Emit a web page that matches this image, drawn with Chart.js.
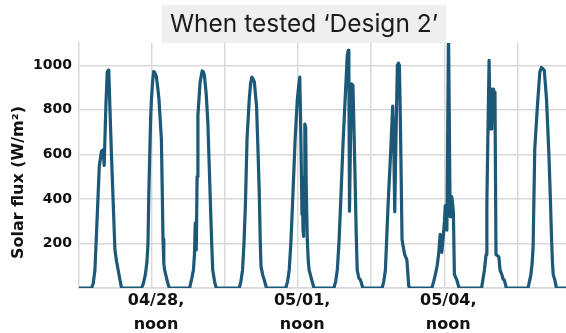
<!DOCTYPE html>
<html><head><meta charset="utf-8">
<script src="https://cdn.jsdelivr.net/npm/chart.js@4.4.1/dist/chart.umd.min.js"></script>
<style>html,body{margin:0;padding:0;background:#fff;}canvas{display:block;}</style>
</head><body>
<canvas id="c" width="566" height="333"></canvas>
<script>
// ---- data (hours are local time of day; each day starts at 00:00) ----
const chartTitle = 'When tested \u2018Design 2\u2019';
const yAxisTitle = 'Solar flux (W/m\u00B2)';
const dayNames = ['04/27','04/28','04/29','04/30','05/01','05/02','05/03','05/04','05/05','05/06'];
const flux0427 = [[6.2,0],[7.0,20],[7.85,81],[8.5,220],[9.2,370],[10.0,548],[11.1,615],[11.9,620],[12.4,550],[13.25,818],[13.9,970],[14.4,978],[14.7,970],[15.2,818],[16.0,600],[16.8,397],[17.7,172],[18.5,120],[19.3,81],[20.1,40],[20.95,0]];
const flux0428 = [[6.8,0],[7.7,20],[8.7,60],[9.5,120],[10.0,200],[10.4,420],[10.85,593],[11.3,760],[11.7,848],[12.3,930],[12.8,972],[13.3,968],[14.1,950],[14.8,900],[15.4,848],[16.0,760],[16.6,667],[17.0,450],[17.4,220],[17.8,110],[18.2,81],[19.0,50],[19.8,20],[20.5,0]];
const flux0429 = [[6.5,0],[7.5,40],[8.4,81],[8.9,150],[9.3,292],[9.5,190],[9.8,171],[10.2,500],[10.6,776],[11.7,925],[12.7,975],[13.3,970],[13.8,955],[14.7,870],[15.5,744],[16.8,370],[17.4,200],[17.9,81],[18.8,30],[19.6,0]];
const flux0430 = [[7.0,0],[7.8,30],[8.6,81],[9.3,200],[10.0,370],[10.8,667],[11.9,848],[12.6,920],[13.2,947],[13.7,940],[14.4,925],[15.5,817],[16.2,620],[16.8,440],[17.3,220],[17.7,96],[18.5,60],[19.3,36],[20.4,0]];
const flux0501 = [[5.9,0],[6.8,30],[7.6,81],[8.4,200],[9.2,370],[10.5,667],[11.6,848],[12.3,910],[12.8,947],[13.2,750],[13.6,517],[13.9,330],[14.1,420],[14.4,260],[14.7,232],[15.0,500],[15.3,736],[15.7,722],[16.0,450],[16.5,217],[17.0,120],[17.4,81],[18.7,36],[19.8,0]];
const flux0502 = [[5.6,0],[6.5,30],[7.3,81],[8.1,200],[8.9,370],[10.2,667],[11.4,893],[12.2,1045],[12.7,1067],[13.0,970],[13.3,345],[13.8,667],[14.3,917],[15.0,910],[15.5,720],[16.0,517],[16.6,250],[17.1,81],[17.9,45],[18.7,36],[19.9,0]];
const flux0503 = [[5.4,0],[6.2,30],[7.0,81],[8.3,370],[9.5,593],[10.6,817],[11.1,667],[11.6,343],[12.2,667],[12.9,1000],[13.4,1010],[13.9,1000],[14.4,744],[15.2,217],[15.9,180],[16.5,150],[17.6,126],[18.5,8],[19.3,0]];
const flux0504 = [[5.9,0],[6.8,30],[7.6,60],[8.5,100],[9.2,150],[10.0,241],[10.4,200],[10.8,160],[11.6,241],[12.1,300],[12.5,370],[13.0,300],[13.3,260],[14.1,1160],[14.9,320],[15.3,380],[15.7,410],[16.1,380],[16.5,340],[17.0,60],[18.2,36],[19.3,0]];
const flux0505 = [[6.4,0],[7.1,40],[7.8,81],[8.6,150],[9.0,380],[9.4,623],[10.1,1022],[10.6,714],[11.1,893],[11.4,714],[11.8,850],[12.2,893],[12.6,880],[13.0,870],[13.5,150],[14.3,145],[14.9,140],[15.5,80],[16.4,60],[17.0,40],[17.6,36],[18.6,0]];
const flux0506 = [[5.3,0],[6.0,30],[6.7,60],[7.3,110],[7.8,186],[8.6,623],[9.9,817],[11.1,970],[11.9,990],[12.5,985],[13.3,977],[14.4,848],[15.6,593],[16.3,400],[16.9,217],[17.3,120],[17.7,60],[18.5,36],[19.3,0]];
const dailyFlux = [flux0427,flux0428,flux0429,flux0430,flux0501,flux0502,flux0503,flux0504,flux0505,flux0506];
const gridHours = [36,72,108,144,180,216];
const labelHours = [36,108,180];
const labelTexts = [['04/28,','noon'],['05/01,','noon'],['05/04,','noon']];
const yTickValues = [0,200,400,600,800,1000];

// ---- build points ----
const points = [{x:0,y:0}];
dailyFlux.forEach((day, i) => day.forEach(([h, v]) => points.push({x: 24*i + h, y: v})));
points.push({x: 24*dailyFlux.length, y: 0});

const GRID = '#d9d9d9';
const decor = {
  id: 'decor',
  afterDraw(chart) {
    const ctx = chart.ctx;
    ctx.save();
    // title with grey box
    ctx.font = '24.5px Inter';
    const w = ctx.measureText(chartTitle).width;
    const cx = 304;
    ctx.fillStyle = '#efefef';
    ctx.fillRect(cx - w/2 - 8, 5, w + 16, 38);
    ctx.fillStyle = '#1a1a1a';
    ctx.textAlign = 'center';
    ctx.textBaseline = 'alphabetic';
    ctx.fillText(chartTitle, cx, 32);
    // y axis title
    ctx.translate(18.5, 182.5);
    ctx.rotate(-Math.PI/2);
    ctx.font = 'bold 16px "DejaVu Sans"';
    ctx.fillStyle = '#111';
    ctx.textAlign = 'center';
    ctx.textBaseline = 'middle';
    ctx.fillText(yAxisTitle, 0, 0);
    ctx.restore();
  }
};

new Chart(document.getElementById('c'), {
  type: 'line',
  data: { datasets: [{ data: points, borderColor: '#1c5878', borderWidth: 3.2, pointRadius: 0, tension: 0, borderJoinStyle: 'round', borderCapStyle: 'round', fill: false }] },
  options: {
    animation: false, responsive: false, devicePixelRatio: 1,
    layout: { padding: { top: 43, left: 0, right: 0, bottom: 0 } },
    plugins: { legend: { display: false }, tooltip: { enabled: false }, title: { display: false } },
    scales: {
      x: {
        type: 'linear', min: 0, max: 240,
        afterBuildTicks: s => { s.ticks = gridHours.map(v => ({ value: v })); },
        afterFit: s => { s.height = 45; },
        grid: { color: GRID, lineWidth: 1.5, drawTicks: false },
        border: { color: GRID, width: 1.5 },
        ticks: {
          autoSkip: false, maxRotation: 0, minRotation: 0, padding: 0, labelOffset: 4, color: '#111',
          font: { family: 'DejaVu Sans', weight: 'bold', size: 16, lineHeight: 1.55 },
          callback: v => { const i = labelHours.indexOf(v); return i >= 0 ? labelTexts[i] : ''; }
        }
      },
      y: {
        min: 0, max: 1100,
        afterBuildTicks: s => { s.ticks = yTickValues.map(v => ({ value: v })); },
        afterFit: s => { s.width = 79; },
        grid: { color: GRID, lineWidth: 1.5, drawTicks: false },
        border: { color: GRID, width: 1.5 },
        ticks: {
          padding: 7, color: '#111',
          font: { family: 'DejaVu Sans', weight: 'bold', size: 14 },
          callback: v => v === 0 ? '' : String(v)
        }
      }
    }
  },
  plugins: [decor]
});
</script>
</body></html>
